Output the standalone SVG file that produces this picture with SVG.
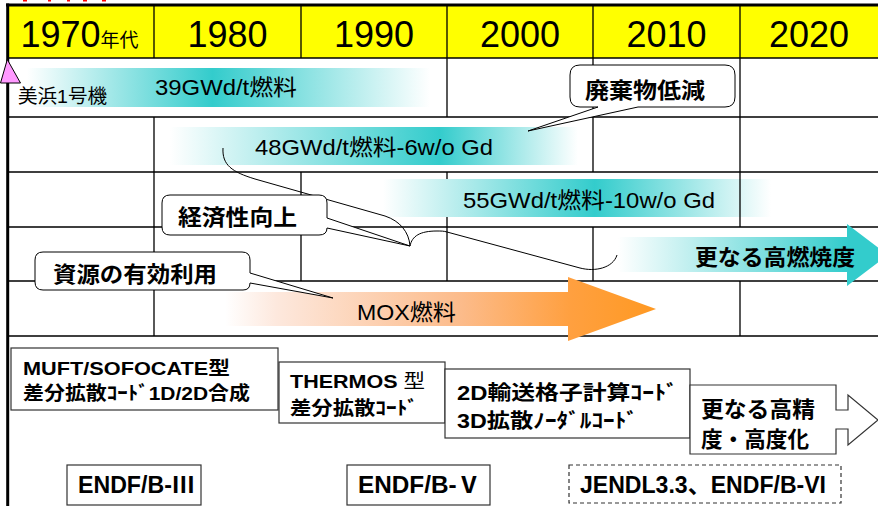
<svg xmlns="http://www.w3.org/2000/svg" width="878" height="506" viewBox="0 0 878 506">
<defs>
<linearGradient id="g39" gradientUnits="userSpaceOnUse" x1="27" y1="0" x2="430" y2="0">
<stop offset="0" stop-color="#fff"/><stop offset="0.46" stop-color="#33CCCC"/><stop offset="1" stop-color="#fff"/>
</linearGradient>
<linearGradient id="g48" gradientUnits="userSpaceOnUse" x1="170" y1="0" x2="578" y2="0">
<stop offset="0" stop-color="#fff"/><stop offset="0.66" stop-color="#33CCCC"/><stop offset="1" stop-color="#fff"/>
</linearGradient>
<linearGradient id="g55" gradientUnits="userSpaceOnUse" x1="383" y1="0" x2="771" y2="0">
<stop offset="0" stop-color="#fff"/><stop offset="0.546" stop-color="#33CCCC"/><stop offset="1" stop-color="#fff"/>
</linearGradient>
<linearGradient id="gHigh" gradientUnits="userSpaceOnUse" x1="618" y1="0" x2="880" y2="0">
<stop offset="0" stop-color="#fff"/><stop offset="0.88" stop-color="#33CCCC"/><stop offset="1" stop-color="#33CCCC"/>
</linearGradient>
<linearGradient id="gMox" gradientUnits="userSpaceOnUse" x1="225" y1="0" x2="656" y2="0">
<stop offset="0" stop-color="#fff"/><stop offset="0.12" stop-color="#FDE8DD"/><stop offset="0.55" stop-color="#FCBB8A"/><stop offset="0.8" stop-color="#FFA040"/><stop offset="1" stop-color="#FF9922"/>
</linearGradient>
<style>
.t{font-family:'Liberation Sans','Noto Sans CJK JP',sans-serif;fill:#000}
.b{font-weight:bold}
.g{stroke:#000;stroke-width:1.3;fill:none}
.box{fill:#fff;stroke:#333;stroke-width:1.2}
.call{fill:#fff;stroke:#000;stroke-width:1}
</style>
</defs>
<rect x="0" y="0" width="878" height="506" fill="#fff"/>
<g id="red-marks" fill="#FF0000">
<rect x="23" y="0" width="4" height="1.5"/><rect x="48" y="0" width="3" height="1.5"/><rect x="67" y="0" width="3" height="1.5"/><rect x="83" y="0" width="4" height="1.5"/><rect x="102" y="0" width="4" height="1.5"/>
</g>
<g id="header">
<rect x="8" y="5" width="870" height="53" fill="#FFFF00"/>
<text class="t" x="20.5" y="47" font-size="36">1970<tspan font-size="19">年代</tspan></text>
<text class="t" x="227.5" y="47" font-size="36" text-anchor="middle">1980</text>
<text class="t" x="374" y="47" font-size="36" text-anchor="middle">1990</text>
<text class="t" x="520" y="47" font-size="36" text-anchor="middle">2000</text>
<text class="t" x="666.5" y="47" font-size="36" text-anchor="middle">2010</text>
<text class="t" x="809" y="47" font-size="36" text-anchor="middle">2020</text>
</g>
<g id="grid" class="g">
<path d="M8,58H878M8,117H878M8,172H878M8,227H878M8,281H878M8,336H878" stroke-width="1.5"/>
<path d="M154,5V58M301,5V58M447,5V58M593,5V58M740,5V58"/>
<path d="M447,58V117M593,58V117M740,58V117"/>
<path d="M154,117V172M593,117V172M740,117V172"/>
<path d="M154,172V227M301,172V227M447,172V227"/>
<path d="M154,227V281M301,227V281M447,227V281M593,227V281"/>
<path d="M154,281V336M740,281V336"/>
</g>
<g id="bar39">
<rect x="27" y="68" width="403" height="39" fill="url(#g39)"/>
<text class="t" x="155" y="95" font-size="22" textLength="142" lengthAdjust="spacingAndGlyphs">39GWd/t燃料</text>
</g>
<text class="t" x="18" y="103" font-size="19" textLength="89" lengthAdjust="spacingAndGlyphs">美浜1号機</text>
<g id="bar48">
<rect x="170" y="127" width="408" height="38" fill="url(#g48)"/>
<text class="t" x="255" y="155" font-size="22" textLength="238" lengthAdjust="spacingAndGlyphs">48GWd/t燃料-6w/o Gd</text>
</g>
<g id="bar55">
<rect x="383" y="179" width="388" height="38" fill="url(#g55)"/>
<text class="t" x="463" y="208" font-size="22" textLength="252" lengthAdjust="spacingAndGlyphs">55GWd/t燃料-10w/o Gd</text>
</g>
<path class="g" d="M740,172V227"/>
<g id="high-burnup">
<path d="M618,237H847V224L888,255L847,286V272H618Z" fill="url(#gHigh)"/>
<text class="t b" x="695" y="265" font-size="22" textLength="160" lengthAdjust="spacingAndGlyphs">更なる高燃焼度</text>
</g>
<g id="mox">
<path d="M225,292H568V277L656,309L568,341V326H225Z" fill="url(#gMox)"/>
<text class="t" x="357" y="320" font-size="22" textLength="99" lengthAdjust="spacingAndGlyphs">MOX燃料</text>
</g>
<g id="connectors">
<path d="M223,148C222,165 232,172 255,179L385,216C400,221 409,232 410,246C412,236 420,231 437,231C441,231 444,231 447,232L580,268C595,272 613,268 617,255" fill="none" stroke="#000" stroke-width="1"/>
</g>
<g id="callout-waste">
<path class="call" d="M580,65H725Q735,65 735,75V97Q735,107 725,107H638L528,131L598,107H580Q570,107 570,97V75Q570,65 580,65Z"/>
<text class="t b" x="585" y="98" font-size="22" textLength="120" lengthAdjust="spacingAndGlyphs">廃棄物低減</text>
</g>
<g id="callout-economy">
<path class="call" d="M170,195H319Q327,195 327,203V218L410,246L327,228Q327,235 319,235H170Q162,235 162,227V203Q162,195 170,195Z"/>
<text class="t b" x="178" y="225" font-size="22" textLength="119" lengthAdjust="spacingAndGlyphs">経済性向上</text>
</g>
<g id="callout-resource">
<path class="call" d="M43,252H242Q250,252 250,260V273L333,298L250,283Q250,290 243,290H43Q35,290 35,282V260Q35,252 43,252Z"/>
<text class="t b" x="53" y="282" font-size="22" textLength="164" lengthAdjust="spacingAndGlyphs">資源の有効利用</text>
</g>
<g id="code-muft">
<rect class="box" x="11" y="348" width="267" height="62"/>
<text class="t b" x="23" y="375" font-size="19" textLength="207" lengthAdjust="spacingAndGlyphs">MUFT/SOFOCATE型</text>
<text class="t b" x="23" y="400" font-size="19" textLength="227" lengthAdjust="spacingAndGlyphs">差分拡散ｺｰﾄﾞ1D/2D合成</text>
</g>
<g id="code-thermos">
<rect class="box" x="279" y="362" width="166" height="61"/>
<text class="t b" x="290" y="388" font-size="19" textLength="135" lengthAdjust="spacingAndGlyphs">THERMOS <tspan font-weight="normal">型</tspan></text>
<text class="t b" x="290" y="415" font-size="19" textLength="128" lengthAdjust="spacingAndGlyphs">差分拡散ｺｰﾄﾞ</text>
</g>
<g id="code-2d3d">
<rect class="box" x="445" y="369" width="245" height="69"/>
<text class="t b" x="457" y="400" font-size="20" textLength="221" lengthAdjust="spacingAndGlyphs">2D輸送格子計算ｺｰﾄﾞ</text>
<text class="t b" x="457" y="428" font-size="20" textLength="181" lengthAdjust="spacingAndGlyphs">3D拡散ﾉｰﾀﾞﾙｺｰﾄﾞ</text>
</g>
<g id="code-future">
<path class="box" d="M690,385H836V410H848V395L878,420L848,445V429H836V454H690Z"/>
<text class="t b" x="701" y="417" font-size="22" textLength="114" lengthAdjust="spacingAndGlyphs">更なる高精</text>
<text class="t b" x="701" y="447" font-size="22" textLength="108" lengthAdjust="spacingAndGlyphs">度・高度化</text>
</g>
<g id="endf3">
<rect class="box" x="67" y="465" width="134" height="40"/>
<text class="t b" x="78" y="493" font-size="23" textLength="117" lengthAdjust="spacingAndGlyphs">ENDF/B-Ⅲ</text>
</g>
<g id="endf5">
<rect class="box" x="347" y="465" width="143" height="40"/>
<text class="t b" x="358" y="493" font-size="23" textLength="123" lengthAdjust="spacingAndGlyphs">ENDF/B-Ⅴ</text>
</g>
<g id="jendl">
<rect class="box" x="569" y="465" width="272" height="38" stroke-dasharray="4,3"/>
<text class="t b" x="580" y="493" font-size="23" textLength="246" lengthAdjust="spacingAndGlyphs">JENDL3.3、ENDF/B-VI</text>
</g>
<g id="frame">
<path d="M6,5H878" stroke="#000" stroke-width="3"/>
<path d="M7.7,3.5V506" stroke="#000" stroke-width="3"/>
</g>
<g id="start-marker">
<path d="M7.3,59.5L20.5,83H0.5Z" fill="#FF99FF" stroke="#000" stroke-width="1"/>
</g>
</svg>
